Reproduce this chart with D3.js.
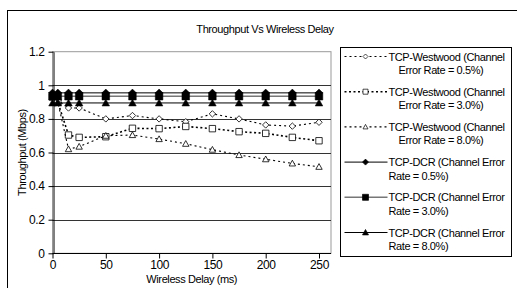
<!DOCTYPE html>
<html>
<head>
<meta charset="utf-8">
<script src="https://cdn.jsdelivr.net/npm/d3@7"></script>
<style>
  body { margin: 0; background: #fff; }
  svg { display: block; font-family: "Liberation Sans", Arial, sans-serif; }
</style>
</head>
<body>
<div id="vis"></div>
<script>
// throughput vs wireless delay, westwood vs dcr

const width = 517;
const height = 288;

const delays = [0, 5, 15, 25, 50, 75, 100, 125, 150, 175, 200, 225, 250];
const westwood05 = [0.93, 0.91, 0.865, 0.865, 0.80, 0.82, 0.80, 0.783, 0.83, 0.80, 0.764, 0.757, 0.78];
const westwood30 = [0.93, 0.90, 0.704, 0.69, 0.694, 0.744, 0.742, 0.755, 0.742, 0.724, 0.714, 0.69, 0.67];
const westwood80 = [0.93, 0.90, 0.62, 0.635, 0.70, 0.704, 0.68, 0.652, 0.617, 0.585, 0.56, 0.535, 0.515];
const dcr05 = [0.955, 0.955, 0.955, 0.955, 0.955, 0.955, 0.955, 0.955, 0.955, 0.955, 0.955, 0.955, 0.955];
const dcr30 = [0.935, 0.935, 0.935, 0.935, 0.935, 0.935, 0.935, 0.935, 0.935, 0.935, 0.935, 0.935, 0.935];
const dcr80 = [0.895, 0.895, 0.895, 0.895, 0.895, 0.895, 0.895, 0.895, 0.895, 0.895, 0.895, 0.895, 0.895];

const seriesNames = [
    ["TCP-Westwood (Channel", "Error Rate = 0.5%)"],
    ["TCP-Westwood (Channel", "Error Rate = 3.0%)"],
    ["TCP-Westwood (Channel", "Error Rate = 8.0%)"],
    ["TCP-DCR (Channel Error", "Rate = 0.5%)"],
    ["TCP-DCR (Channel Error", "Rate = 3.0%)"],
    ["TCP-DCR (Channel Error", "Rate = 8.0%)"]
];
const xTicks = [0, 50, 100, 150, 200, 250];
const yTicks = [0, 0.2, 0.4, 0.6, 0.8, 1, 1.2];

const plot = {left: 52.5, right: 331, top: 51.7, bottom: 253.3};
const xScale = d3.scaleLinear().domain([0, 250]).range([plot.left, 319]);
const yScale = d3.scaleLinear().domain([0, 1.2]).range([plot.bottom, plot.top]);

const series = [
    {values: westwood05, shape: 'diamond', dcr: false, stroke: '#000', dash: '2,3', sw: 1.1},
    {values: westwood30, shape: 'square', dcr: false, stroke: '#000', dash: '2,2.5', sw: 1.6},
    {values: westwood80, shape: 'triangle', dcr: false, stroke: '#000', dash: '2,3', sw: 1.1},
    {values: dcr05, shape: 'diamond', dcr: true, stroke: '#000', dash: null, sw: 1},
    {values: dcr30, shape: 'square', dcr: true, stroke: '#777', dash: null, sw: 1.5},
    {values: dcr80, shape: 'triangle', dcr: true, stroke: '#000', dash: null, sw: 1}
];

// marker path centred on 0,0
function markerPath(shape, s) {
    if (shape === 'diamond') return `M0,${-s}L${s},0L0,${s}L${-s},0Z`;
    if (shape === 'square') return `M${-s},${-s}H${s}V${s}H${-s}Z`;
    return `M0,${-s}L${s},${s * 0.8}L${-s},${s * 0.8}Z`;
}

const svg = d3.select('#vis').append('svg').attr('width', width).attr('height', height);

// chart frame (runs off the right and bottom)
svg.append('rect')
    .attr('x', 7.5).attr('y', 10.5)
    .attr('width', 530).attr('height', 300)
    .attr('fill', 'none').attr('stroke', '#000').attr('stroke-width', 1);

svg.append('text')
    .attr('x', 265).attr('y', 33)
    .attr('text-anchor', 'middle')
    .style('font-size', '11px').style('letter-spacing', '-0.4px')
    .text('Throughput Vs Wireless Delay');

// plot area border
svg.append('rect')
    .attr('x', plot.left).attr('y', plot.top)
    .attr('width', plot.right - plot.left).attr('height', plot.bottom - plot.top)
    .attr('fill', 'none').attr('stroke', '#999').attr('stroke-width', 1);

// gridlines
svg.append('g').selectAll('line').data(yTicks.filter(d => d > 0 && d < 1.2)).enter().append('line')
    .attr('x1', plot.left).attr('x2', plot.right)
    .attr('y1', d => Math.round(yScale(d)) + 0.5).attr('y2', d => Math.round(yScale(d)) + 0.5)
    .attr('stroke', '#333').attr('stroke-width', 1);

// axes
const xAxis = d3.axisBottom(xScale).tickValues(xTicks).tickSize(5).tickSizeOuter(0).tickPadding(2);
const yAxis = d3.axisLeft(yScale).tickValues(yTicks).tickSize(5).tickSizeOuter(0).tickPadding(4)
    .tickFormat(d3.format('~g'));

let xAxisG = svg.append('g').attr('class', 'x axis')
    .attr('transform', `translate(0, ${Math.round(plot.bottom) + 0.5})`)
    .call(xAxis);
xAxisG.select('.domain').attr('d', `M${plot.left},0H${plot.right}`);

let yAxisG = svg.append('g').attr('class', 'y axis')
    .attr('transform', `translate(${Math.round(plot.left) + 0.5}, 0)`)
    .call(yAxis);

svg.selectAll('.axis .domain, .axis line').attr('stroke', '#000');
svg.selectAll('.axis text').style('font-size', '12px').style('font-family', '"Liberation Sans", Arial, sans-serif')
    .style('letter-spacing', '-0.4px').attr('fill', '#000');

svg.append('text')
    .attr('x', (plot.left + 319) / 2 + 6).attr('y', 283)
    .attr('text-anchor', 'middle')
    .style('font-size', '11px').style('letter-spacing', '-0.4px')
    .text('Wireless Delay (ms)');

svg.append('text')
    .attr('transform', `translate(26, ${(plot.top + plot.bottom) / 2}) rotate(-90)`)
    .attr('text-anchor', 'middle')
    .style('font-size', '11px').style('letter-spacing', '-0.4px')
    .text('Throughput (Mbps)');

const line = d3.line().x(d => xScale(d[0])).y(d => yScale(d[1]));

// lines first, then markers on top
let seriesG = svg.selectAll('g.series').data(series).enter().append('g').attr('class', 'series');
seriesG.append('path')
    .attr('d', d => line(delays.map((x, i) => [x, d.values[i]])))
    .attr('fill', 'none')
    .attr('stroke', d => d.stroke)
    .attr('stroke-width', d => d.sw)
    .attr('stroke-dasharray', d => d.dash);

seriesG.each(function (s) {
    d3.select(this).selectAll('path.marker').data(delays.map((x, i) => [x, s.values[i]])).enter()
        .append('path').attr('class', 'marker')
        .attr('transform', d => `translate(${xScale(d[0])}, ${yScale(d[1])})`)
        .attr('d', markerPath(s.shape, s.dcr ? 3.8 : 3.2))
        .attr('fill', s.dcr ? '#000' : '#fff')
        .attr('stroke', '#000')
        .attr('stroke-width', s.dcr ? 0.5 : 0.8);
});

// legend
const legend = {x: 340.5, y: 47.5, w: 171, h: 209, row: 35.2};
svg.append('rect')
    .attr('x', legend.x).attr('y', legend.y).attr('width', legend.w).attr('height', legend.h)
    .attr('fill', '#fff').attr('stroke', '#000');

let legendG = svg.selectAll('g.legend').data(series).enter().append('g').attr('class', 'legend')
    .attr('transform', (d, i) => `translate(${legend.x}, ${legend.y + 9 + i * legend.row})`);
legendG.append('line')
    .attr('x1', 4).attr('x2', 47).attr('y1', 0).attr('y2', 0)
    .attr('stroke', d => d.stroke).attr('stroke-width', d => d.sw)
    .attr('stroke-dasharray', d => d.dash);
legendG.append('path')
    .attr('transform', 'translate(25, 0)')
    .attr('d', d => markerPath(d.shape, d.dcr ? 3 : 2.5))
    .attr('fill', d => d.dcr ? '#000' : '#fff')
    .attr('stroke', '#000').attr('stroke-width', 0.7);
legendG.append('text')
    .attr('x', 48).attr('y', 4)
    .style('font-size', '11px').style('letter-spacing', '-0.4px')
    .text((d, i) => seriesNames[i][0]);
legendG.append('text')
    .attr('x', (d, i) => d.dcr ? 48 : 58).attr('y', 17.5)
    .style('font-size', '11px').style('letter-spacing', '-0.4px')
    .text((d, i) => seriesNames[i][1]);
</script>
</body>
</html>
